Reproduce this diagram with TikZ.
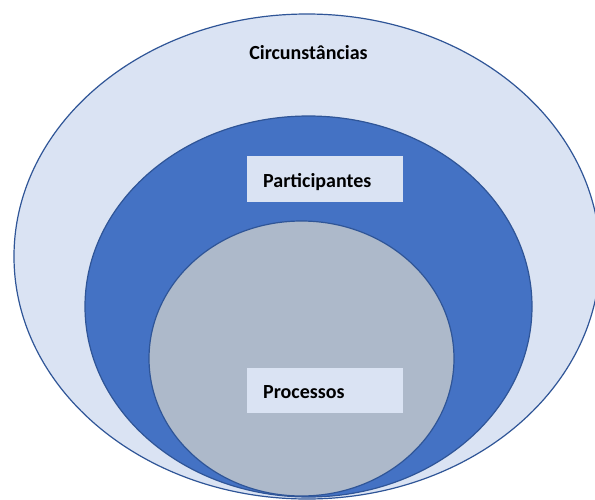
\documentclass[tikz,border=0pt]{standalone}
\usepackage{fontspec}
\setmainfont{Carlito}
\begin{document}
\begin{tikzpicture}[x=1pt,y=-1pt,
  ring/.style={draw=edgeblue,line width=1.2pt},
  label box/.style={fill=lightblue,minimum width=156pt,minimum height=46pt,inner sep=0pt},
  lbl/.style={font=\bfseries\fontsize{20}{22}\selectfont,text=black,inner sep=0pt}]
\definecolor{edgeblue}{HTML}{2F5597}
\definecolor{lightblue}{HTML}{DAE3F3}
\definecolor{midblue}{HTML}{4472C4}
\definecolor{greyblue}{HTML}{ADB9CA}
\useasboundingbox (0,0) rectangle (595,499);
\clip (0,0) rectangle (595,499);
\fill[white] (0,0) rectangle (595,499);
\draw[ring,fill=lightblue] (307,256.5) ellipse [x radius=293,y radius=242.5];
\draw[ring,fill=midblue] (308.5,306.5) ellipse [x radius=223.5,y radius=190.5];
\draw[ring,fill=greyblue] (301.5,358.5) ellipse [x radius=152.5,y radius=137.5];
\node[lbl] (circ) at (308.5,53) {Circunstâncias};
\node[label box] (pbox) at (325,179) {};
\node[lbl,anchor=west] (part) at (263,182) {Participantes};
\node[label box,minimum height=45pt] (prbox) at (325,390.5) {};
\node[lbl,anchor=west] (proc) at (263,392) {Processos};
\end{tikzpicture}
\end{document}
